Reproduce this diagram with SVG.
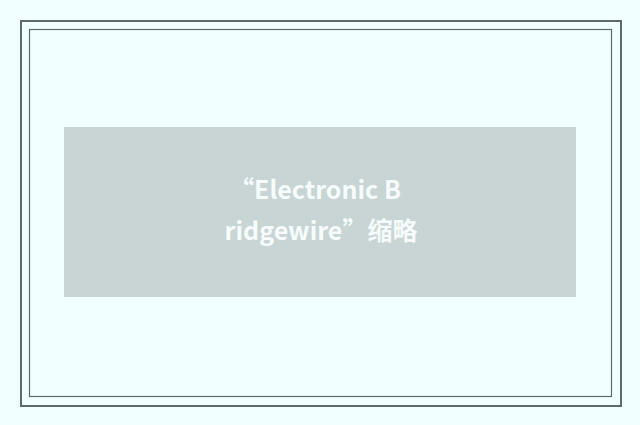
<svg xmlns="http://www.w3.org/2000/svg" width="640" height="425" viewBox="0 0 640 425">
<style>
.t{font-family:"Noto Sans CJK SC","Noto Sans",sans-serif;font-weight:bold;font-size:25px;fill:#f6fbfb;text-anchor:middle}
</style>
<rect x="0" y="0" width="640" height="425" fill="#f1fffe"/>
<rect x="21" y="21" width="600" height="385" fill="none" stroke="#5c6a68" stroke-width="2"/>
<rect x="29.5" y="29.5" width="582" height="367" fill="none" stroke="#5c6a68" stroke-width="1.2"/>
<g id="banner">
<rect x="64" y="127" width="512" height="170" fill="#c8d5d4"/>
<text class="t" x="315" y="199">“Electronic B</text>
<text class="t" x="321" y="240">ridgewire”缩略</text>
</g>
</svg>
